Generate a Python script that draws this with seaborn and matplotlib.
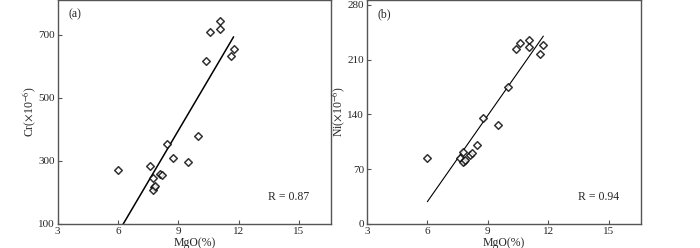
import numpy as np
import pandas as pd
import matplotlib
matplotlib.use('Agg')
import matplotlib.pyplot as plt
import seaborn as sns

# MgO (%) of each sample, shared by both panels
mgo = [6.0, 7.6, 7.75, 7.8, 7.75, 7.85, 8.1, 8.2, 8.45, 8.75, 9.5, 10.0,
       10.4, 10.6, 11.05, 11.05, 11.6, 11.75]
# Cr (x10^-6)
cr = [270, 285, 245, 216, 207, 220, 258, 254, 355, 310, 298, 380,
      616, 710, 745, 718, 632, 655]
# Ni (x10^-6)
ni = [84, 84, 92, 81, 79, 82, 88, 91, 101, 135, 126, 175,
      223, 231, 235, 226, 217, 228]

r_labels = ['R = 0.87', 'R = 0.94']
panel_labels = ['(a)', '(b)']
y_labels = [r'Cr($\times$10$^{-6}$)', r'Ni($\times$10$^{-6}$)']

df = pd.DataFrame({'MgO': mgo, 'Cr': cr, 'Ni': ni})

sns.set_style('ticks')
plt.rcParams['font.family'] = ['Liberation Serif', 'DejaVu Serif']
plt.rcParams['mathtext.fontset'] = 'stix'
plt.rcParams['xtick.direction'] = 'in'
plt.rcParams['ytick.direction'] = 'in'
plt.rcParams['axes.edgecolor'] = '#555555'
plt.rcParams['axes.linewidth'] = 1.0

fig = plt.figure(figsize=(7, 2.48), dpi=100)
ax1 = fig.add_axes([0.0824, 0.097, 0.3906, 0.903])
ax2 = fig.add_axes([0.524, 0.097, 0.392, 0.903])

for ax, col, ylab, pl, rl, lw in zip([ax1, ax2], ['Cr', 'Ni'], y_labels,
                                    panel_labels, r_labels, [1.1, 0.8]):
  sns.regplot(data=df, x='MgO', y=col, ax=ax, ci=None, marker='D',
              scatter_kws=dict(s=15, facecolors='white', edgecolors='black',
                               linewidths=1.1, zorder=3),
              line_kws=dict(color='black', lw=lw, zorder=2))
  ax.set_xlim(3, 16.6)
  ax.set_xticks([3, 6, 9, 12, 15])
  ax.set_xlabel('MgO(%)', fontsize=8.5, labelpad=1)
  ax.set_ylabel(ylab, fontsize=8.5, labelpad=0)
  ax.tick_params(labelsize=8, length=3, width=0.8, pad=2, color='#555555')
  ax.text(0.04, 0.935, pl, transform=ax.transAxes, fontsize=8.5,
          ha='left', va='center')
  ax.text(0.77, 0.12, rl, transform=ax.transAxes, fontsize=8.5,
          ha='left', va='center')

ax1.set_ylim(100, 811)
ax1.set_yticks([100, 300, 500, 700])
ax2.set_ylim(0, 286)
ax2.set_yticks([0, 70, 140, 210, 280])

fig.savefig('out.png', dpi=100)
